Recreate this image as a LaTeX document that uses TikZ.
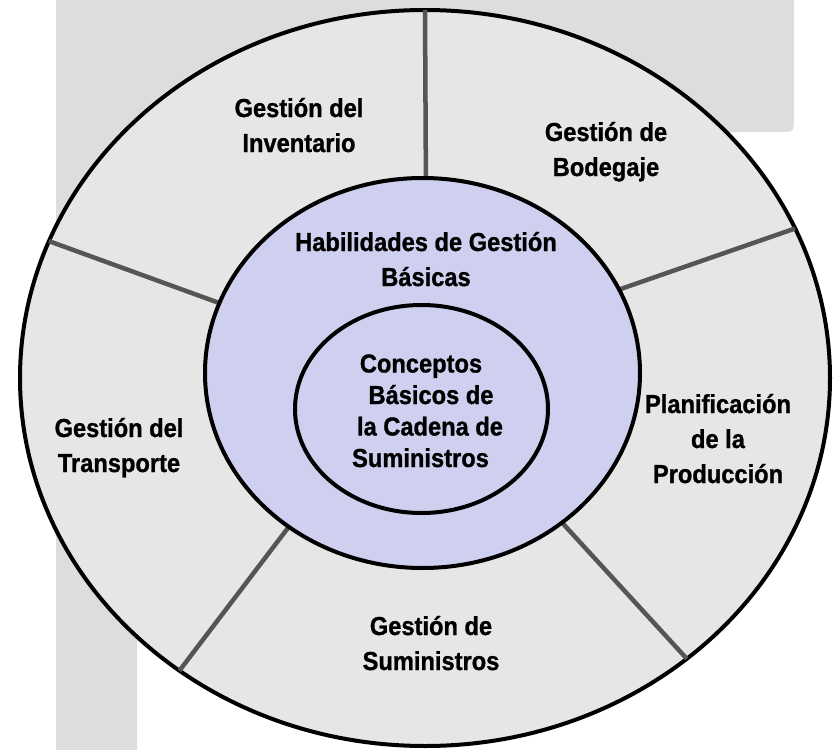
\documentclass[tikz,border=0pt]{standalone}
\usepackage{fontspec}
\usetikzlibrary{shapes.geometric}
\newfontfamily\lblfont[FakeStretch=0.91,FakeBold=1]{Liberation Sans Bold}
\definecolor{bggray}{HTML}{DDDDDD}
\definecolor{ringgray}{HTML}{E6E6E6}
\definecolor{lav}{HTML}{CFCFEF}
\definecolor{divgray}{HTML}{555555}
\pgfdeclarelayer{back}
\pgfdeclarelayer{divl}
\pgfsetlayers{back,divl,main}
\begin{document}
\begin{tikzpicture}[x=1pt,y=-1pt,
  ring/.style={ellipse, draw=black, line width=4pt, inner sep=0pt, outer sep=0pt},
  divider/.style={draw=divgray, line width=4.5pt},
  lbl/.style={font=\lblfont\fontsize{26}{35}\selectfont, align=center, anchor=base, inner sep=0pt},
  lblin/.style={lbl, font=\lblfont\fontsize{26}{31.5}\selectfont}]
\useasboundingbox (0,0) rectangle (839,750);
\begin{pgfonlayer}{back}
\fill[bggray] (56,0) -- (794,0) -- (794,117) .. controls (794,132) .. (779,132) -- (137,132) -- (137,750) -- (56,750) -- cycle;
\node[ring, fill=ringgray, minimum width=810pt, minimum height=736pt] (outer) at (425,378) {};
\end{pgfonlayer}
\node[ring, fill=lav, minimum width=435pt, minimum height=390pt] (mid) at (422.5,373) {};
\node[ring, fill=lav, minimum width=253pt, minimum height=208pt] (inner) at (421.5,409) {};
\begin{pgfonlayer}{divl}
\draw[divider] (outer.90) -- (mid.89.3);
\draw[divider] (outer.160.67) -- (mid.161.1);
\draw[divider] (outer.22.47) -- (mid.23.3);
\draw[divider] (outer.230.8) -- (mid.229.2);
\draw[divider] (outer.313.7) -- (mid.313);
\end{pgfonlayer}
\node[lbl] (inv) at (299,152) {Gestión del\\Inventario};
\node[lbl] (bod) at (606,176) {Gestión de\\Bodegaje};
\node[lbl] (hab) at (426,286) {Habilidades de Gestión\\Básicas};
\node[lblin] (con) at (425,467) {Conceptos\hspace*{8pt}\\\hspace*{12pt}Básicos de\\\hspace*{10pt}la Cadena de\\Suministros\hspace*{9pt}};
\node[lbl] (tra) at (119,472) {Gestión del\\Transporte};
\node[lbl] (pla) at (718,483) {Planificación\\de la\\Producción};
\node[lbl] (sum) at (431,670) {Gestión de\\Suministros};
\end{tikzpicture}
\end{document}
